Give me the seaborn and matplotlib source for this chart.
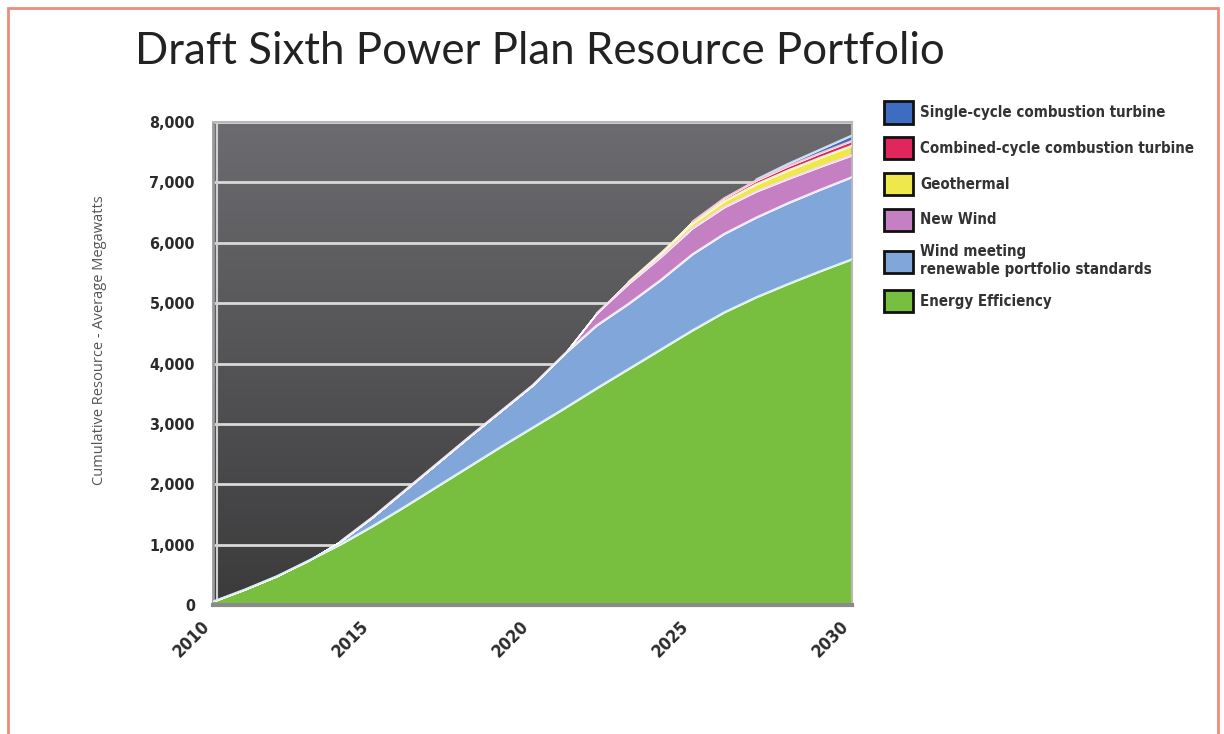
import numpy as np
import pandas as pd
import matplotlib.pyplot as plt
import seaborn as sns
from matplotlib.colors import LinearSegmentedColormap
from matplotlib.patches import Patch, Rectangle

# Data (average megawatts, cumulative by year)
years = list(range(2010, 2031))
energy_efficiency = [60, 260, 480, 740, 1010, 1310, 1630, 1960, 2290, 2620, 2940,
                     3260, 3590, 3910, 4230, 4550, 4850, 5100, 5320, 5530, 5730]
wind_rps = [0, 0, 0, 0, 50, 150, 270, 380, 490, 590, 700,
            900, 1040, 1080, 1150, 1260, 1300, 1320, 1340, 1350, 1360]
new_wind = [0, 0, 0, 0, 0, 0, 0, 0, 0, 0, 0,
            0, 200, 330, 380, 430, 440, 430, 400, 380, 360]
geothermal = [0, 0, 0, 0, 0, 0, 0, 0, 0, 0, 0,
              0, 0, 30, 60, 80, 100, 120, 140, 150, 160]
ccct = [0, 0, 0, 0, 0, 0, 0, 0, 0, 0, 0,
        0, 0, 0, 0, 30, 50, 60, 70, 75, 80]
scct = [0, 0, 0, 0, 0, 0, 0, 0, 0, 0, 0,
        0, 0, 0, 0, 0, 0, 20, 40, 60, 90]

series_names = ['Energy Efficiency', 'Wind meeting\nrenewable portfolio standards',
                'New Wind', 'Geothermal', 'Combined-cycle combustion turbine',
                'Single-cycle combustion turbine']
series_colors = ['#79bf3f', '#80a6da', '#c57fc3', '#eee84c', '#e0265c', '#3d6cc0']

df = pd.DataFrame({'year': years, 'Energy Efficiency': energy_efficiency,
                   'Wind RPS': wind_rps, 'New Wind': new_wind,
                   'Geothermal': geothermal, 'CCCT': ccct, 'SCCT': scct})

sns.set_theme(style="white")
plt.rcParams['font.family'] = ['DejaVu Sans']

fig = plt.figure(figsize=(12.24, 7.34), dpi=100)
ax = fig.add_axes([213 / 1224, 1 - 605 / 734, (852 - 213) / 1224, (605 - 122) / 734])

# dark gradient background
bg = LinearSegmentedColormap.from_list('bg', ['#3b3b3c', '#6c6c70'])
grad = np.linspace(0, 1, 256).reshape(-1, 1)
ax.imshow(grad, extent=[2010, 2030, 0, 8000], aspect='auto', origin='lower',
          cmap=bg, zorder=0)

for v in range(1000, 8001, 1000):
    ax.axhline(v, color='#d9d9d9', lw=2, zorder=1)
ax.axvline(2010.12, color='#d0d0d0', lw=1.5, zorder=1)

cols = ['Energy Efficiency', 'Wind RPS', 'New Wind', 'Geothermal', 'CCCT', 'SCCT']
ax.stackplot(df['year'], [df[c] for c in cols], colors=series_colors, zorder=2)

# light boundary lines between layers
cum = df[cols].cumsum(axis=1)
edge_colors = ['#d8f0ee', '#f0e6f6', '#f6d9f0', '#f7f2c8', '#f3c6d2', '#c9dcf2']
for c, ec in zip(cols, edge_colors):
    mask = df[c] > 0
    sub = pd.DataFrame({'year': df['year'][mask], 'top': cum[c][mask]})
    sns.lineplot(data=sub, x='year', y='top', ax=ax, color=ec, lw=1.3, zorder=3)

narrow = {'family': ['DejaVu Sans'], 'stretch': 'condensed', 'weight': 'bold'}

ax.set_xlim(2010, 2030)
ax.set_ylim(0, 8000)
ax.set_xticks([2010, 2015, 2020, 2025, 2030])
ax.set_yticks(range(0, 8001, 1000))
ax.set_yticklabels([f'{v:,}' for v in range(0, 8001, 1000)])
ax.set_xlabel('')
ax.set_ylabel('')
for lab in ax.get_yticklabels():
    lab.set_fontproperties(narrow)
    lab.set_fontsize(11.5)
    lab.set_color('#2b2b2b')
for lab in ax.get_xticklabels():
    lab.set_fontproperties(narrow)
    lab.set_fontsize(12.5)
    lab.set_color('#2b2b2b')
    lab.set_rotation(45)
    lab.set_ha('right')
    lab.set_va('top')
ax.tick_params(axis='x', pad=3)
ax.tick_params(axis='y', pad=7)
for s in ['top', 'right']:
    ax.spines[s].set_color('#b8b8b8')
    ax.spines[s].set_linewidth(1.5)
ax.spines['left'].set_color('#9a9a9a')
ax.spines['left'].set_linewidth(2)
ax.spines['bottom'].set_color('#8a8a8a')
ax.spines['bottom'].set_linewidth(3)

fig.text(0.11, 1 - 52 / 734, 'Draft Sixth Power Plan Resource Portfolio',
         fontsize=31.5, family='Lato', color='#222222', va='center', ha='left')
fig.text(100 / 1224, 1 - 340 / 734, 'Cumulative Resource - Average Megawatts',
         rotation=90, fontsize=10.5, family='Open Sans', color='#555555',
         va='center', ha='center')

handles = [Patch(facecolor=c, edgecolor='#111111', lw=2) for c in series_colors[::-1]]
fig.legend(handles, series_names[::-1], loc='upper left',
           bbox_to_anchor=(870 / 1224, 1 - 88 / 734), frameon=False,
           handlelength=1.95, handleheight=1.9, labelspacing=0.9,
           handletextpad=0.5,
           prop={'family': ['DejaVu Sans'], 'stretch': 'condensed',
                 'weight': 'bold', 'size': 10.8},
           labelcolor='#333333')

# salmon frame around the picture
fig.patches.append(Rectangle((8 / 1224, -0.02), 1210 / 1224, 1 - 8 / 734 + 0.02,
                             transform=fig.transFigure, fill=False,
                             edgecolor='#f08a7a', lw=2))

plt.savefig('out.png', dpi=100)
plt.close()
